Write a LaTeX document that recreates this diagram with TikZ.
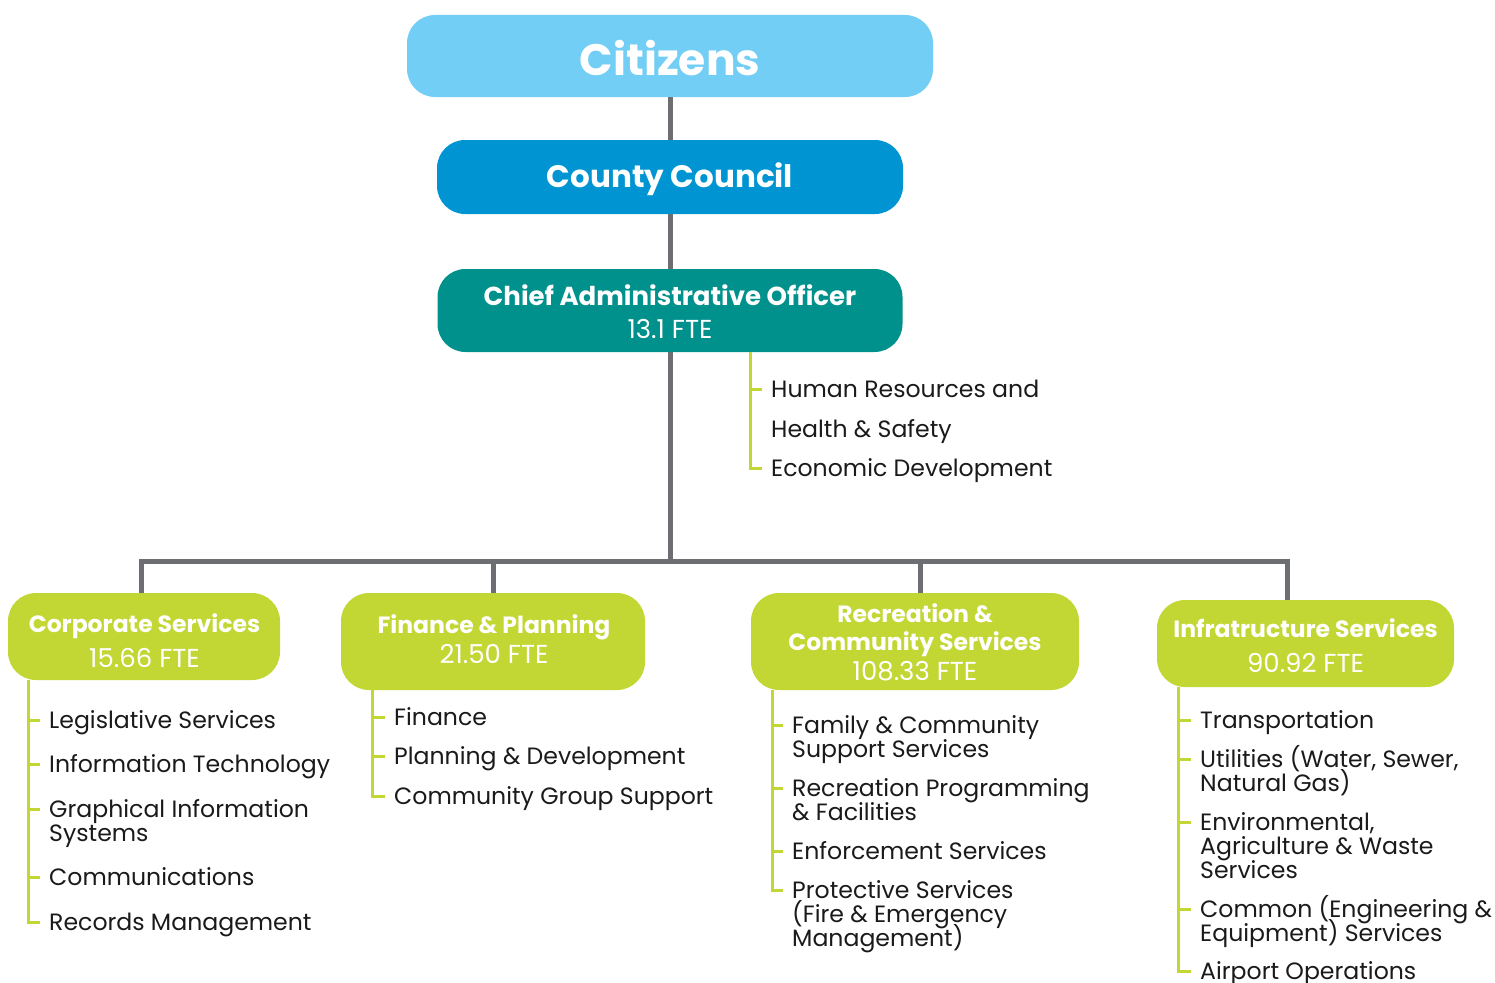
\documentclass[tikz,border=0pt]{standalone}
\usepackage{fontspec}
\setmainfont{Poppins}
\definecolor{citblue}{HTML}{72CEF5}
\definecolor{ccblue}{HTML}{0095D2}
\definecolor{caoteal}{HTML}{00918C}
\definecolor{lime}{HTML}{C3D734}
\definecolor{cgray}{HTML}{6D6E71}
\definecolor{txt}{HTML}{1A1A1A}
\newcommand{\fr}{\rule{0pt}{22pt}}
\newcommand{\itemfont}{\fontsize{23.6}{24}\selectfont\lineskiplimit=-40pt\relax}
\tikzset{
  box/.style={rounded corners=28pt, inner sep=0pt},
  bt/.style={anchor=base, inner sep=0pt, text=white},
  hb/.style={bt, font=\fontsize{23.5}{28}\selectfont\bfseries},
  fte/.style={bt, font=\fontsize{26}{28}\selectfont},
  conn/.style={draw=cgray, line width=5pt},
  lst/.style={draw=lime, line width=3pt},
  item/.style={anchor=north west, align=left, inner sep=0pt, text=txt, font=\itemfont},
}
\begin{document}
\begin{tikzpicture}[x=1pt,y=-1pt]
\useasboundingbox (0,0) rectangle (1495,982);
% boxes
\node[box, fill=citblue, minimum width=526pt, minimum height=82pt] (cit) at (670,56) {};
\node[bt, font=\fontsize{44}{50}\selectfont\bfseries] (cit-t) at (670,75) {Citizens};
\node[box, fill=ccblue, minimum width=466pt, minimum height=74pt] (cc) at (670,177) {};
\node[bt, font=\fontsize{31}{36}\selectfont\bfseries] (cc-t) at (670,187) {County Council};
\node[box, fill=caoteal, minimum width=465pt, minimum height=83pt] (cao) at (670,310.5) {};
\node[bt, font=\fontsize{26}{30}\selectfont\bfseries] (cao-t) at (670,305) {Chief Administrative Officer};
\node[fte] (cao-f) at (670,338) {13.1 FTE};
\node[box, fill=lime, minimum width=272pt, minimum height=87pt] (cs) at (144,636.5) {};
\node[hb] (cs-t) at (144.5,632) {Corporate Services};
\node[fte] (cs-f) at (144.5,667) {15.66 FTE};
\node[box, fill=lime, minimum width=304pt, minimum height=97pt] (fp) at (493,641.5) {};
\node[hb] (fp-t) at (494,633) {Finance \& Planning};
\node[fte] (fp-f) at (494,663) {21.50 FTE};
\node[box, fill=lime, minimum width=328pt, minimum height=97pt] (rc) at (915,641.5) {};
\node[hb] (rc-t1) at (915,622) {Recreation \&};
\node[hb] (rc-t2) at (915,650) {Community Services};
\node[fte] (rc-f) at (915,680) {108.33 FTE};
\node[box, fill=lime, minimum width=297pt, minimum height=87pt] (inf) at (1305.5,643.5) {};
\node[hb] (inf-t) at (1305.5,637) {Infratructure Services};
\node[fte] (inf-f) at (1305.5,672) {90.92 FTE};
% tree connectors
\coordinate (bus) at (670,561);
\draw[conn] (cit.south) -- (cc.north);
\draw[conn] (cc.south) -- (cao.north);
\draw[conn] (cao.south) -- (bus);
\draw[conn] ([xshift=-3pt]cs.north) |- (bus);
\draw[conn] (fp.north) |- (bus);
\draw[conn] ([xshift=5pt]rc.north) |- (bus);
\draw[conn] ([xshift=-18.5pt]inf.north) |- (bus);
% CAO list
\node[item, font=\fontsize{23.6}{40}\selectfont] (h1) at (771,375) {\fr Human Resources and\\Health \& Safety};
\node[item] (h2) at (771,454) {\fr Economic Development};
\coordinate (caol) at ([xshift=80pt]cao.south);
\draw[lst] ([yshift=-14pt]h1.north west -| caol) -- ([xshift=-9pt,yshift=-14pt]h1.north west);
\draw[lst] (caol) |- ([xshift=-9pt,yshift=-14pt]h2.north west);
% Corporate list
\node[item] (c1) at (49,706) {\fr Legislative Services};
\node[item] (c2) at (49,750) {\fr Information Technology};
\node[item] (c3) at (49,795) {\fr Graphical Information\\Systems};
\node[item] (c4) at (49,863) {\fr Communications};
\node[item] (c5) at (49,908) {\fr Records Management};
\coordinate (csl) at ([xshift=21pt]cs.south west);
\foreach \n in {c1,c2,c3,c4}
  \draw[lst] ([yshift=-14pt]\n.north west -| csl) -- ([xshift=-9pt,yshift=-14pt]\n.north west);
\draw[lst] (csl) |- ([xshift=-9pt,yshift=-14pt]c5.north west);
% Finance list
\node[item] (f1) at (394,703) {\fr Finance};
\node[item] (f2) at (394,742) {\fr Planning \& Development};
\node[item] (f3) at (394,782) {\fr Community Group Support};
\coordinate (fpl) at ([xshift=32pt]fp.south west);
\foreach \n in {f1,f2}
  \draw[lst] ([yshift=-14pt]\n.north west -| fpl) -- ([xshift=-9pt,yshift=-14pt]\n.north west);
\draw[lst] (fpl) |- ([xshift=-9pt,yshift=-14pt]f3.north west);
% Recreation list
\node[item] (r1) at (792,711) {\fr Family \& Community\\Support Services};
\node[item] (r2) at (792,774) {\fr Recreation Programming\\\& Facilities};
\node[item] (r3) at (792,837) {\fr Enforcement Services};
\node[item] (r4) at (792,876) {\fr Protective Services\\(Fire \& Emergency\\Management)};
\coordinate (rcl) at ([xshift=22pt]rc.south west);
\foreach \n in {r1,r2,r3}
  \draw[lst] ([yshift=-14pt]\n.north west -| rcl) -- ([xshift=-9pt,yshift=-14pt]\n.north west);
\draw[lst] (rcl) |- ([xshift=-9pt,yshift=-14pt]r4.north west);
% Infrastructure list
\node[item] (i1) at (1200,706) {\fr Transportation};
\node[item] (i2) at (1200,745) {\fr Utilities (Water, Sewer,\\Natural Gas)};
\node[item] (i3) at (1200,808) {\fr Environmental,\\Agriculture \& Waste\\Services};
\node[item] (i4) at (1200,895) {\fr Common (Engineering \&\\Equipment) Services};
\node[item] (i5) at (1200,957) {\fr Airport Operations};
\coordinate (infl) at ([xshift=22pt]inf.south west);
\foreach \n in {i1,i2,i3,i4}
  \draw[lst] ([yshift=-14pt]\n.north west -| infl) -- ([xshift=-9pt,yshift=-14pt]\n.north west);
\draw[lst] (infl) |- ([xshift=-9pt,yshift=-14pt]i5.north west);
\end{tikzpicture}
\end{document}
